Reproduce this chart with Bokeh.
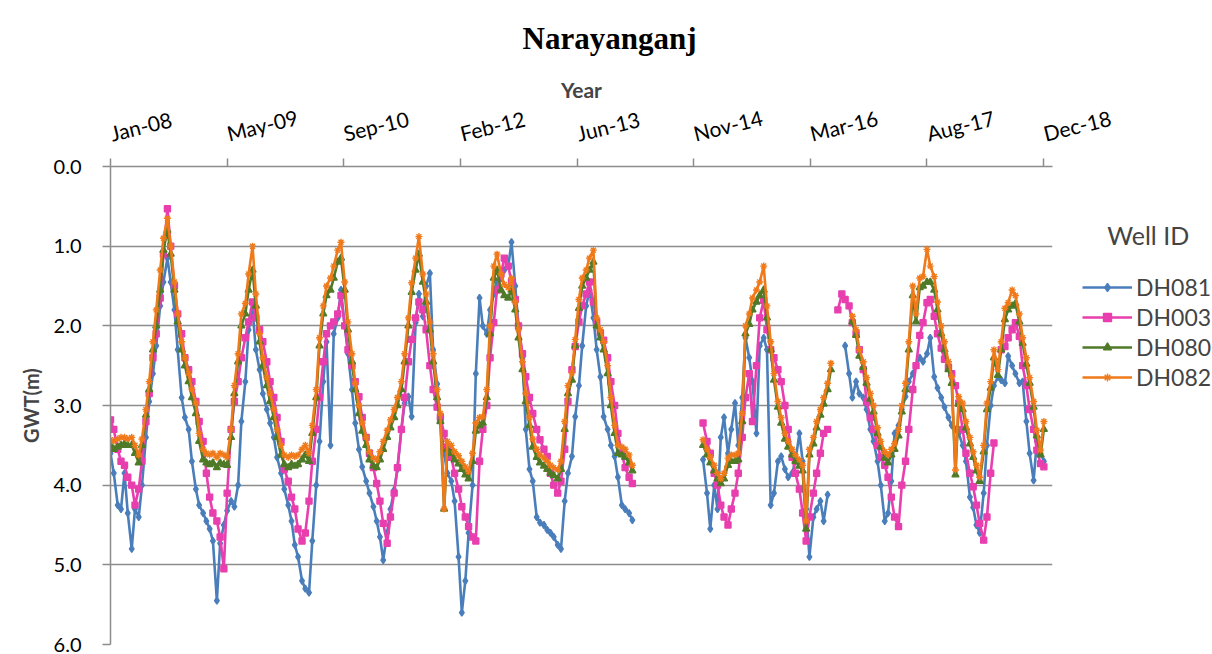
import pandas as pd
from bokeh.plotting import figure
from bokeh.models import (Range1d, FixedTicker, NumeralTickFormatter, Legend,
                          LegendItem, Title)
from bokeh.embed import file_html
from bokeh.resources import INLINE

nan = float("nan")

# ---------------- data (semi-monthly readings, GWT in m) ----------------
# three observation periods, sampled on the 1st and 15th of each month
seg_starts = ["2008-01-01", "2014-12-15", "2016-07-15"]

dh081_a = [3.60, 3.85, 4.25, 4.30, 3.85, 4.35, 4.80, 4.30, 4.40, 4.00, 3.40, 2.95, 2.60, 2.25, 1.75, 1.45, 1.15, 1.45, 1.80, 2.30, 2.90, 3.15, 3.30, 3.70,
           4.05, 4.25, 4.35, 4.45, 4.55, 4.70, 5.45, 4.73, 4.50, 4.32, 4.20, 4.27, 4.00, 3.20, 2.70, 2.05, 1.80, 2.30, 2.55, 2.85, 3.05, 3.22, 3.40, 3.65,
           3.85, 4.05, 4.25, 4.45, 4.75, 4.90, 5.20, 5.30, 5.35, 4.70, 4.00, 3.45, 2.70, 2.20, 3.50, 2.10, 1.90, 1.55, 2.00, 2.35, 2.80, 3.22, 3.55, 3.77,
           3.95, 4.10, 4.27, 4.45, 4.65, 4.94, 4.60, 4.30, 4.06, 3.80, 3.30, 2.97, 2.89, 3.14, 1.96, 1.60, 1.88, 1.50, 1.34, 2.30, 2.73, 3.20, 3.60, 3.85,
           3.95, 4.20, 4.90, 5.60, 5.20, 4.60, 4.00, 2.60, 1.65, 2.00, 2.10, 1.80, 1.60, 1.45, 1.40, 1.30, 1.25, 0.95, 1.50, 2.00, 2.40, 3.30, 3.80, 3.95,
           4.40, 4.47, 4.50, 4.56, 4.60, 4.65, 4.75, 4.80, 4.20, 3.85, 3.64, 3.14, 2.75, 2.25, 1.75, 1.55, 1.90, 2.30, 2.64, 3.14, 3.30, 3.50, 3.64, 3.90,
           4.25, 4.30, 4.35, 4.44]
dh003_a = [3.18, 3.30, 3.55, 3.70, 3.75, 3.90, 4.00, 4.25, 4.05, 3.70, 3.20, 2.85, 2.40, 2.10, 1.65, 1.10, 0.53, 1.00, 1.50, 1.85, 2.10, 2.40, 2.55, 2.70,
           2.95, 3.20, 3.45, 3.85, 4.15, 4.35, 4.45, 4.65, 5.05, 4.10, 3.30, 2.95, 2.70, 2.40, 2.15, 1.95, 1.70, 1.90, 2.05, 2.20, 2.45, 2.70, 2.90, 3.15,
           3.45, 3.80, 3.95, 4.15, 4.30, 4.55, 4.70, 4.60, 4.20, 3.70, 3.30, 2.90, 2.45, 2.10, 2.00, 1.95, 1.85, 1.62, 2.00, 2.30, 2.50, 2.70, 2.89, 3.15,
           3.40, 3.60, 3.78, 3.98, 4.20, 4.48, 4.73, 4.40, 4.10, 3.78, 3.30, 2.90, 2.45, 2.17, 1.90, 1.70, 1.80, 2.05, 2.50, 2.80, 3.02, 3.15, 3.35, 3.52,
           3.65, 3.85, 4.05, 4.27, 4.40, 4.52, 4.65, 4.70, 3.70, 3.30, 3.00, 2.40, 1.96, 1.55, 1.35, 1.15, 1.25, 1.45, 1.67, 2.00, 2.35, 2.64, 2.90, 3.10,
           3.30, 3.43, 3.55, 3.64, 3.85, 4.00, 4.10, 3.95, 3.55, 2.95, 2.55, 2.26, 1.95, 1.75, 1.60, 1.45, 1.70, 1.95, 2.09, 2.18, 2.40, 2.70, 3.00, 3.35,
           3.60, 3.78, 3.90, 3.98]
dh080_a = [3.50, 3.55, 3.52, 3.50, 3.48, 3.50, 3.50, 3.60, 3.72, 3.50, 3.12, 2.80, 2.30, 2.00, 1.55, 1.05, 0.80, 1.10, 1.55, 1.95, 2.30, 2.50, 2.70, 2.90,
           3.10, 3.45, 3.68, 3.72, 3.74, 3.72, 3.78, 3.72, 3.74, 3.75, 3.40, 2.85, 2.45, 2.00, 1.85, 1.55, 1.30, 1.75, 2.20, 2.50, 2.75, 2.95, 3.15, 3.40,
           3.62, 3.74, 3.78, 3.74, 3.76, 3.74, 3.68, 3.62, 3.70, 3.35, 2.90, 2.25, 1.85, 1.62, 1.55, 1.40, 1.20, 1.15, 1.55, 2.05, 2.45, 2.80, 3.10, 3.32,
           3.50, 3.68, 3.76, 3.78, 3.68, 3.55, 3.40, 3.28, 3.15, 3.00, 2.80, 2.45, 2.00, 1.58, 1.30, 1.10, 1.45, 1.70, 2.05, 2.45, 2.90, 3.20, 4.30, 3.55,
           3.60, 3.68, 3.73, 3.80, 3.87, 3.92, 3.70, 3.32, 3.25, 3.22, 2.90, 2.10, 1.40, 1.30, 1.55, 1.62, 1.65, 1.55, 1.80, 2.15, 2.55, 2.95, 3.25, 3.52,
           3.65, 3.72, 3.76, 3.80, 3.85, 3.88, 3.92, 3.80, 3.30, 2.85, 2.68, 2.25, 1.78, 1.50, 1.40, 1.30, 1.20, 2.00, 2.15, 2.30, 2.60, 3.00, 3.35, 3.60,
           3.62, 3.65, 3.72, 3.82]
dh082_a = [3.43, 3.45, 3.42, 3.40, 3.40, 3.42, 3.40, 3.50, 3.62, 3.42, 3.05, 2.70, 2.20, 1.80, 1.30, 0.90, 0.65, 1.00, 1.45, 1.85, 2.20, 2.40, 2.60, 2.80,
           2.97, 3.35, 3.55, 3.60, 3.62, 3.60, 3.65, 3.60, 3.62, 3.65, 3.30, 2.75, 2.35, 1.85, 1.72, 1.35, 1.00, 1.60, 2.10, 2.40, 2.65, 2.85, 3.05, 3.30,
           3.50, 3.62, 3.65, 3.62, 3.64, 3.62, 3.55, 3.50, 3.60, 3.25, 2.80, 2.15, 1.75, 1.50, 1.40, 1.25, 1.05, 0.95, 1.45, 1.95, 2.35, 2.72, 3.00, 3.22,
           3.40, 3.58, 3.66, 3.68, 3.58, 3.45, 3.31, 3.18, 3.05, 2.90, 2.70, 2.35, 1.90, 1.46, 1.15, 0.88, 1.35, 1.60, 1.95, 2.35, 2.80, 3.10, 4.30, 3.45,
           3.50, 3.58, 3.63, 3.70, 3.77, 3.83, 3.60, 3.22, 3.15, 3.14, 2.80, 2.00, 1.25, 1.10, 1.35, 1.48, 1.52, 1.40, 1.70, 2.05, 2.45, 2.85, 3.15, 3.42,
           3.55, 3.62, 3.66, 3.70, 3.75, 3.78, 3.81, 3.70, 3.20, 2.75, 2.59, 2.17, 1.67, 1.40, 1.30, 1.15, 1.05, 1.90, 2.05, 2.20, 2.50, 2.90, 3.25, 3.50,
           3.52, 3.55, 3.62, 3.75]

dh081_b = [3.68, 4.10, 4.55, 4.00, 4.30, 3.40, 3.15, 3.60, 3.30, 2.97, 3.50, 2.90, 2.15, 2.40, 2.70, 3.35, 2.25, 2.15, 2.30,
           4.25, 4.10, 3.70, 3.64, 3.80, 3.90, 3.85, 3.70, 3.35, 3.70, 4.30, 4.90, 4.40, 4.30, 4.20, 4.45, 4.12, nan]
dh003_b = [3.22, 3.45, 3.60, 3.85, 4.00, 4.25, 4.40, 4.50, 4.30, 4.10, 3.85, 3.40, 2.90, 2.60, 3.20, 2.50, 1.90, 1.68, 2.05,
           2.30, 2.40, 2.55, 2.70, 3.00, 3.30, 3.65, 3.85, 4.05, 4.35, 4.70, 4.40, 4.10, 3.85, 3.60, 3.35, 3.30, nan]
dh080_b = [3.50, 3.62, 3.72, 3.82, 3.92, 3.98, 3.92, 3.75, 3.70, 3.70, 3.68, 3.20, 2.10, 1.98, 1.80, 1.70, 1.62, 1.55, 1.90,
           2.30, 2.68, 3.02, 3.22, 3.42, 3.52, 3.62, 3.70, 3.76, 3.82, 4.55, 3.62, 3.48, 3.28, 3.12, 2.98, 2.80, 2.55]
dh082_b = [3.43, 3.55, 3.65, 3.75, 3.85, 3.92, 3.85, 3.66, 3.62, 3.62, 3.60, 3.10, 2.00, 1.85, 1.65, 1.55, 1.45, 1.25, 1.75,
           2.20, 2.60, 2.95, 3.15, 3.35, 3.45, 3.55, 3.62, 3.68, 3.75, 4.45, 3.55, 3.40, 3.20, 3.05, 2.90, 2.72, 2.47]

dh081_c = [nan, nan, 2.25, 2.60, 2.90, 2.70, 2.85, 2.90, 3.05, 3.30, 3.45, 3.70, 4.00, 4.45, 4.35, 3.95, 3.35, 3.25, 3.05, 2.89,
           2.70, 2.60, 2.50, 2.40, 2.45, 2.35, 2.15, 2.64, 2.78, 2.90, 3.02, 3.15, 3.25, 3.30, 3.35, 3.50, 3.70, 4.15, 4.28, 4.50,
           4.60, 4.10, 3.50, 3.00, 2.75, 2.64, 2.68, 2.72, 2.38, 2.50, 2.60, 2.72, 2.70, 3.20, 3.60, 3.94, 3.45, 3.60, 3.70]
dh003_c = [1.80, 1.60, 1.67, 1.75, 1.96, 2.10, 2.30, 2.55, 2.95, 3.15, 3.30, 3.50, 3.65, 3.75, 3.90, 4.15, 4.40, 4.52, 4.00, 3.70,
           3.30, 2.80, 2.50, 2.12, 1.96, 1.71, 1.67, 1.88, 2.10, 2.28, 2.42, 2.52, 2.60, 2.75, 2.97, 3.30, 3.60, 3.85, 4.02, 4.25,
           4.48, 4.69, 4.40, 3.85, 3.47, nan, 2.30, 2.26, 2.15, 2.05, 1.96, 2.13, 2.50, 2.75, 3.05, 3.30, 3.56, 3.73, 3.77]
dh080_c = [nan, nan, nan, nan, 1.95, 2.12, 2.38, 2.52, 2.72, 2.92, 3.08, 3.35, 3.52, 3.66, 3.72, 3.62, 3.55, 3.38, 3.08, 2.80,
           2.30, 1.62, 1.95, 1.52, 1.50, 1.45, 1.45, 1.55, 1.80, 2.10, 2.30, 2.55, 2.72, 3.87, 2.98, 3.05, 3.28, 3.48, 3.65, 3.82,
           3.95, 3.58, 3.05, 2.78, 2.40, 2.62, 2.30, 1.92, 1.80, 1.75, 1.72, 1.95, 2.22, 2.48, 2.72, 3.02, 3.38, 3.62, 3.30]
dh082_c = [nan, nan, nan, nan, 1.88, 2.05, 2.30, 2.45, 2.65, 2.85, 3.00, 3.28, 3.45, 3.58, 3.62, 3.55, 3.48, 3.30, 3.00, 2.72,
           2.20, 1.50, 1.85, 1.40, 1.38, 1.04, 1.25, 1.38, 1.70, 2.00, 2.20, 2.45, 2.64, 3.81, 2.89, 2.97, 3.20, 3.40, 3.58, 3.75,
           3.90, 3.50, 2.97, 2.70, 2.30, 2.55, 2.20, 1.78, 1.71, 1.55, 1.62, 1.85, 2.15, 2.40, 2.65, 2.95, 3.31, 3.56, 3.20]

wells = ["DH081", "DH003", "DH080", "DH082"]
series = {
    "DH081": [dh081_a, dh081_b, dh081_c],
    "DH003": [dh003_a, dh003_b, dh003_c],
    "DH080": [dh080_a, dh080_b, dh080_c],
    "DH082": [dh082_a, dh082_b, dh082_c],
}

tick_dates = ["2008-01-01", "2009-05-15", "2010-09-27", "2012-02-09", "2013-06-23",
              "2014-11-05", "2016-03-19", "2017-08-01", "2018-12-14"]
tick_labels = ["Jan-08", "May-09", "Sep-10", "Feb-12", "Jun-13",
               "Nov-14", "Mar-16", "Aug-17", "Dec-18"]
y_ticks = [0, 1, 2, 3, 4, 5, 6]
x_start, x_end = "2008-01-01", "2019-01-21"

# ---------------- styles ----------------
colors = {"DH081": "#4a7ebb", "DH003": "#e83eae", "DH080": "#4f7a28", "DH082": "#f07a1a"}
markers = {"DH081": "diamond", "DH003": "square", "DH080": "triangle", "DH082": "asterisk"}
msize = {"DH081": 7, "DH003": 6, "DH080": 7, "DH082": 7}
FONT = "Lato"
GRID = "#8c8c8c"


def ms(d):
    return pd.Timestamp(d).value // 10**6


p = figure(frame_width=942, frame_height=478, x_axis_type="datetime",
           x_axis_location="above", output_backend="svg", toolbar_location=None,
           x_range=Range1d(pd.Timestamp(x_start), pd.Timestamp(x_end)),
           y_range=Range1d(6, 0),
           min_border_left=110, min_border_right=160, min_border_top=166,
           min_border_bottom=10)
p.outline_line_color = None
p.background_fill_color = "white"
p.border_fill_color = "white"

legend_items = []
for w in wells:
    rends = []
    for start, vals in zip(seg_starts, series[w]):
        dates = pd.date_range(start, periods=len(vals), freq="SMS")
        r1 = p.line(dates, vals, line_color=colors[w], line_width=2.6)
        r2 = p.scatter(dates, vals, marker=markers[w], size=msize[w],
                       fill_color=colors[w], line_color=colors[w], line_width=1.4)
        if not rends:
            rends = [r1, r2]
    legend_items.append(LegendItem(label=w, renderers=rends))

# axes
xa = p.xaxis[0]
xa.ticker = FixedTicker(ticks=[ms(d) for d in tick_dates])
xa.major_label_overrides = {ms(d): lab for d, lab in zip(tick_dates, tick_labels)}
xa.major_label_orientation = 0.24
xa.major_label_text_font = FONT
xa.major_label_text_font_size = "21px"
xa.major_label_text_color = "black"
xa.major_label_standoff = 25
xa.axis_label = "Year"
xa.axis_label_text_font = FONT
xa.axis_label_text_font_style = "bold"
xa.axis_label_text_font_size = "21px"
xa.axis_label_standoff = -13
xa.axis_line_color = GRID
xa.axis_line_width = 1.5
xa.major_tick_line_color = GRID
xa.major_tick_line_width = 1.5
xa.major_tick_out = 8
xa.major_tick_in = 0
xa.minor_tick_line_color = None

ya = p.yaxis[0]
ya.ticker = FixedTicker(ticks=y_ticks)
ya.formatter = NumeralTickFormatter(format="0.0")
ya.major_label_text_font = FONT
ya.major_label_text_font_size = "20px"
ya.major_label_text_color = "black"
ya.major_label_standoff = 21
ya.axis_label = "GWT(m)"
ya.axis_label_text_font = FONT
ya.axis_label_text_font_style = "bold"
ya.axis_label_text_font_size = "20px"
ya.axis_label_standoff = 8
ya.axis_line_color = GRID
ya.axis_line_width = 1.5
ya.major_tick_line_color = GRID
ya.major_tick_line_width = 1.5
ya.major_tick_out = 8
ya.major_tick_in = 0
ya.minor_tick_line_color = None

p.xgrid.grid_line_color = None
p.ygrid.grid_line_color = GRID
p.ygrid.grid_line_width = 1.5

legend = Legend(items=legend_items, location=(30, 253), padding=0, margin=0,
                spacing=2, glyph_width=50, glyph_height=20, label_height=20,
                label_standoff=4, label_text_font=FONT, label_text_font_size="23px",
                title="\u00a0\u00a0\u00a0\u00a0Well ID", title_text_font=FONT,
                title_text_font_size="25px",
                title_text_font_style="normal", title_standoff=23,
                border_line_color=None, background_fill_alpha=0)
p.add_layout(legend, "right")

p.add_layout(Title(text="Narayanganj", text_font="Liberation Serif",
                   text_font_style="bold", text_font_size="31px",
                   align="left", offset=412, standoff=37, text_color="black"), "above")

open("out.html", "w").write(file_html(p, INLINE))
